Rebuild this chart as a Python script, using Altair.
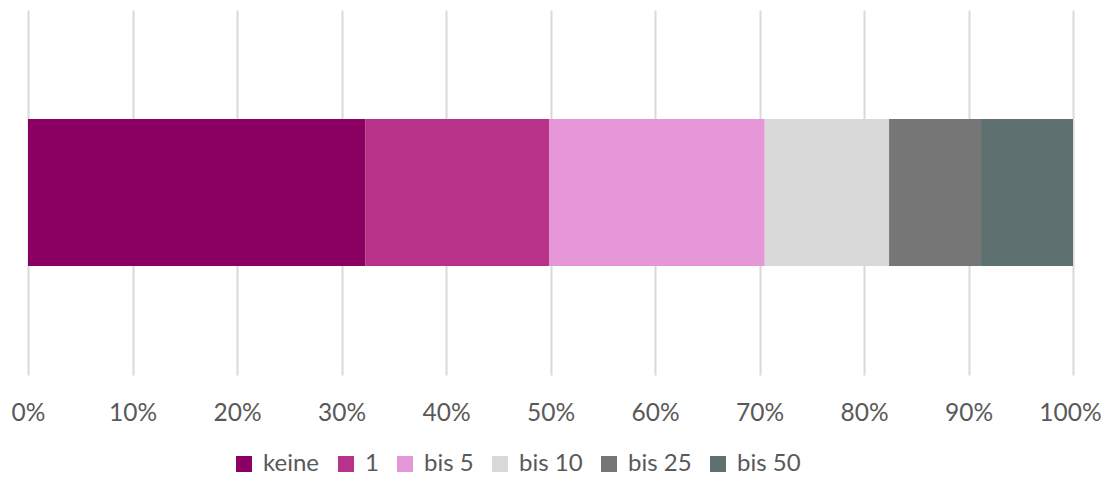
import altair as alt
import pandas as pd

categories = ["keine", "1", "bis 5", "bis 10", "bis 25", "bis 50"]
shares = [0.323, 0.176, 0.206, 0.119, 0.088, 0.088]
colors = ["#8B0062", "#B83289", "#E496D6", "#D9D9D9", "#767676", "#5E7170"]
tick_values = [i / 10 for i in range(11)]

df = pd.DataFrame({
    "Kategorie": categories,
    "Anteil": shares,
    "Reihenfolge": list(range(len(categories))),
    "Gruppe": ["A"] * len(categories),
})

font = "Lato"

chart = alt.Chart(df).mark_bar().encode(
    x=alt.X(
        "sum(Anteil):Q",
        stack="zero",
        scale=alt.Scale(domain=[0, 1], nice=False, zero=True),
        axis=alt.Axis(
            values=tick_values,
            format=".0%",
            title=None,
            grid=True,
            gridColor="#D9D9D9",
            gridWidth=2,
            domain=False,
            ticks=False,
            labelFont=font,
            labelFontSize=24.5,
            labelColor="#595959",
            labelPadding=26,
            labelFlush=False,
            labelOffset=alt.condition("datum.value == 1", alt.value(-3), alt.value(0)),
        ),
    ),
    y=alt.Y(
        "Gruppe:N",
        scale=alt.Scale(paddingInner=0, paddingOuter=0.741),
        axis=None,
    ),
    color=alt.Color(
        "Kategorie:N",
        scale=alt.Scale(domain=categories, range=colors),
        legend=alt.Legend(
            title=None,
            orient="none",
            direction="horizontal",
            legendX=204,
            legendY=442,
            padding=0,
            symbolType="square",
            symbolSize=256,
            symbolStrokeWidth=0,
            symbolOpacity=1,
            labelFont=font,
            labelFontSize=24,
            labelColor="#595959",
            labelOffset=7,
            columnPadding=14,
            gridAlign="none",
        ),
    ),
    order=alt.Order("Reihenfolge:Q", sort="ascending"),
).properties(
    width=1045,
    height=365,
    background="white",
    autosize=alt.AutoSizeParams(type="none"),
    padding={"left": 20, "top": 2, "right": 28, "bottom": 102},
).configure_view(stroke=None)

chart.save("out.html", embed_options={"renderer": "svg", "actions": False})
